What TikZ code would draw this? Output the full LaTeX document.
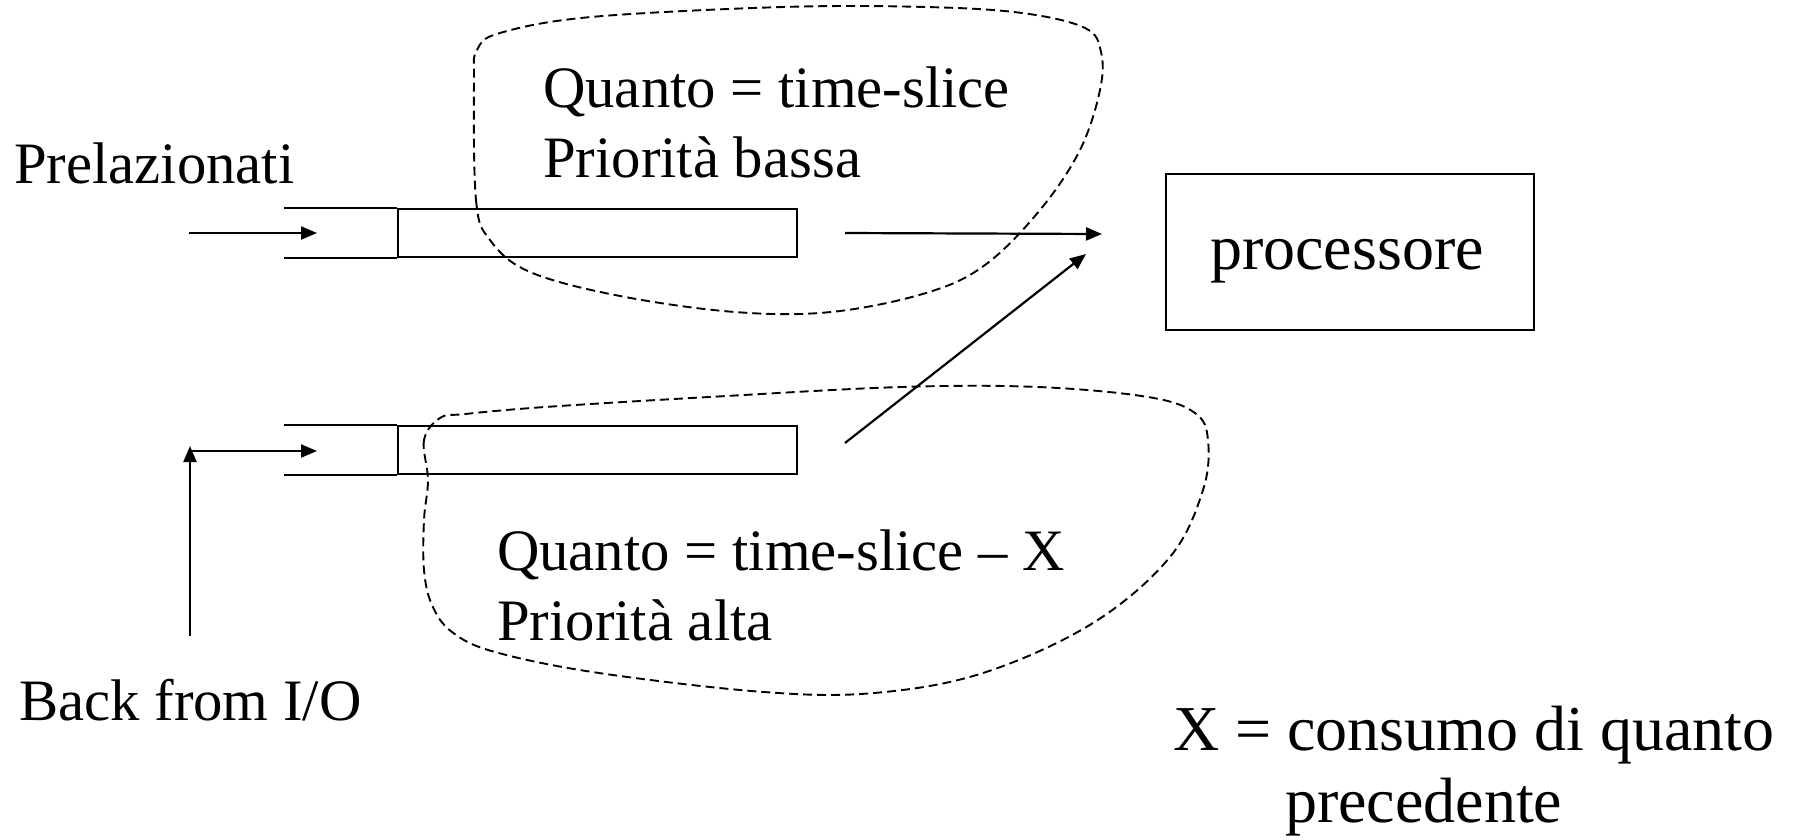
\documentclass[tikz,border=0pt]{standalone}
\usepackage{fontspec}
\setmainfont{Liberation Serif}
\usetikzlibrary{arrows.meta}
\tikzset{
  txt/.style={inner sep=0pt, anchor=base west, font=\fontsize{58.7}{70}\selectfont},
  bigtxt/.style={inner sep=0pt, font=\fontsize{64}{72}\selectfont},
  queuebox/.style={draw, line width=2.2pt, minimum width=399pt, minimum height=48pt, inner sep=0pt},
  procbox/.style={draw, line width=2.2pt, minimum width=368pt, minimum height=156pt, inner sep=0pt},
  solidline/.style={line width=2.2pt},
  arr/.style={line width=2.2pt, -{Triangle[length=16pt,width=13pt]}},
  blob/.style={line width=1.9pt, dash pattern=on 9pt off 5pt}
}
\begin{document}
\begin{tikzpicture}[x=1pt,y=-1pt]
\useasboundingbox (0,0) rectangle (1794,839);
% queues
\node[queuebox] (q1) at (597.5,233) {};
\node[queuebox] (q2) at (597.5,450) {};
\draw[solidline] (q1.north west) -- ++(-113,0);
\draw[solidline] (q1.south west) -- ++(-113,0);
\draw[solidline] (q2.north west) -- ++(-113,0);
\draw[solidline] (q2.south west) -- ++(-113,0);
% processor
\node[procbox] (proc) at (1350,252) {};
\node[bigtxt, anchor=base] (proclbl) at (1347,269) {processore};
% texts
\node[txt] (prel) at (14,183) {Prelazionati};
\node[txt] (back) at (19,720) {Back from I/O};
\node[txt] (q1a) at (543,107) {Quanto = time-slice};
\node[txt] (q1b) at (543,177) {Priorità bassa};
\node[txt] (q2a) at (497,570) {Quanto = time-slice – X};
\node[txt] (q2b) at (497,640) {Priorità alta};
\node[bigtxt, anchor=base west] (xa) at (1173,750) {X = consumo di quanto};
\node[bigtxt, anchor=base west] (xb) at (1285,822) {precedente};
% arrow coordinates
\coordinate (in1s) at (189,233);
\coordinate (in1e) at (317,233);
\coordinate (io) at (190,636);
\coordinate (corner) at (190,446);
\coordinate (in2s) at (190,451);
\coordinate (in2e) at (317,451);
\coordinate (out1s) at (845,233);
\coordinate (out1e) at (1102,234);
\coordinate (out2s) at (845,443);
\coordinate (out2e) at (1086,254);
\draw[arr] (in1s) -- (in1e);
\draw[arr] (io) -- (corner);
\draw[arr] (in2s) -- (in2e);
\draw[arr] (out1s) -- (out1e);
\draw[arr] (out2s) -- (out2e);
% dashed blobs
\draw[blob] plot[smooth cycle, tension=0.6] coordinates {
 (474,80) (476,200) (490,240) (530,272) (620,296) (735,312) (831,312) (926,293)
 (985,265) (1040,210) (1080,150) (1100,90) (1101,52) (1085,28) (1022,13) (926,7)
 (783,7) (591,17) (500,33) (477,50)};
\draw[blob] plot[smooth cycle, tension=0.6] coordinates {
 (440,418) (424,440) (428,480) (424,520) (424,570) (432,605) (452,632) (495,652)
 (599,673) (764,692) (874,693) (983,673) (1093,623) (1170,557) (1203,490) (1208,440)
 (1195,413) (1148,397) (1038,387) (901,387) (709,397) (545,407) (465,414)};
\end{tikzpicture}
\end{document}
